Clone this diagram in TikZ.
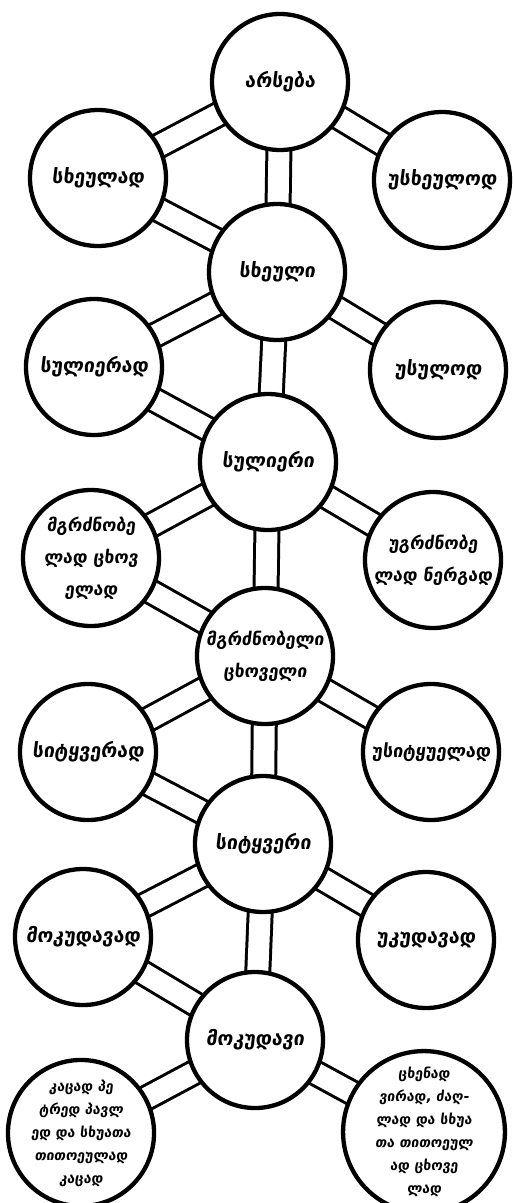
\documentclass[tikz,border=0pt]{standalone}
\usepackage{fontspec}
\newfontfamily\geo{DejaVu Sans}[FakeSlant=0.12]
\pgfdeclarelayer{bars}
\pgfsetlayers{bars,main}
\newcommand\linkbar[2]{%
  \draw[barout] (#1.center) -- (#2.center);
  \draw[barin] (#1.center) -- (#2.center);}
\begin{document}
\begin{tikzpicture}[x=1pt,y=-1pt,
  circ/.style={circle, draw, line width=4.3pt, fill=white, inner sep=0pt,
    minimum size=136pt, align=center,
    font=\geo\bfseries\fontsize{19.5}{30}\selectfont},
  mid/.style={font=\geo\bfseries\fontsize{17.5}{32}\selectfont},
  small/.style={font=\geo\bfseries\fontsize{14}{23}\selectfont},
  barout/.style={line width=27pt, black},
  barin/.style={line width=21pt, white}]
\useasboundingbox (0,0) rectangle (514,1203);
\node[circ] (A)  at (280,82)  {არსება};
\node[circ] (L1) at (98,178)  {სხეულად};
\node[circ] (R1) at (442,180) {უსხეულოდ};
\node[circ] (C1) at (277,272) {სხეული};
\node[circ] (L2) at (94,367)  {სულიერად};
\node[circ] (R2) at (438,370) {უსულოდ};
\node[circ] (C2) at (268,462) {სულიერი};
\node[circ,mid] (L3) at (91,558)  {მგრძნობე\\ლად ცხოვ\\ელად};
\node[circ,mid] (R3) at (433,560) {უგრძნობე\\ლად ნერგად};
\node[circ,mid] (C3) at (265,656) {მგრძნობელი\\ცხოველი};
\node[circ] (L4) at (88,752)  {სიტყვერად};
\node[circ,font=\geo\bfseries\fontsize{18}{30}\selectfont] (R4) at (431,752) {უსიტყუელად};
\node[circ] (C4) at (263,844) {სიტყვერი};
\node[circ] (L5) at (83,937)  {მოკუდავად};
\node[circ] (R5) at (426,940) {უკუდავად};
\node[circ] (C5) at (255,1040) {მოკუდავი};
\node[circ,small,minimum size=132pt] (L6) at (81,1133) {კაცად პე\\ტრედ პავლ\\ედ და სხუათა\\თითოეულად\\კაცად};
\node[circ,small,minimum size=132pt] (R6) at (424,1132) {ცხენად\\ვირად, ძაღ-\\ლად და სხუა\\თა თითოეულ\\ად ცხოვე\\ლად};
\begin{pgfonlayer}{bars}
\linkbar{A}{L1} \linkbar{A}{R1} \linkbar{A}{C1}
\linkbar{C1}{L1} \linkbar{C1}{L2} \linkbar{C1}{R2} \linkbar{C1}{C2}
\linkbar{C2}{L2} \linkbar{C2}{L3} \linkbar{C2}{R3} \linkbar{C2}{C3}
\linkbar{C3}{L3} \linkbar{C3}{L4} \linkbar{C3}{R4} \linkbar{C3}{C4}
\linkbar{C4}{L4} \linkbar{C4}{L5} \linkbar{C4}{R5} \linkbar{C4}{C5}
\linkbar{C5}{L5} \linkbar{C5}{L6} \linkbar{C5}{R6}
\end{pgfonlayer}
\end{tikzpicture}
\end{document}
